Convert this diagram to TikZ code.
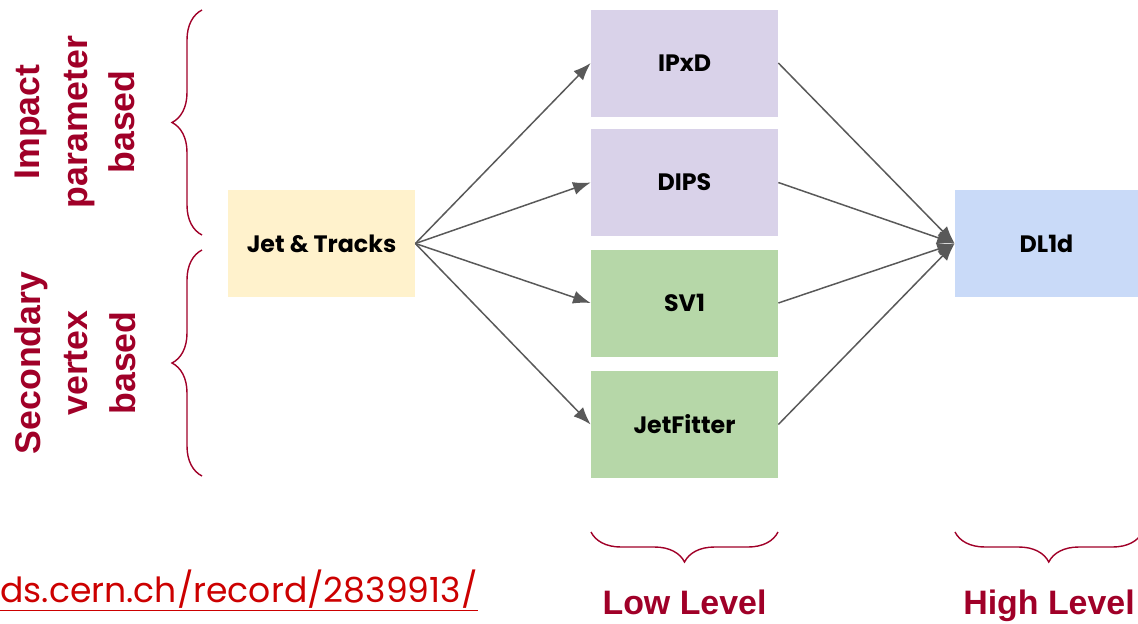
\documentclass[tikz,border=0pt]{standalone}
\usepackage{fontspec}
\setmainfont{Liberation Sans}
\newfontfamily\boxfont{Poppins}
\usetikzlibrary{arrows.meta,decorations.pathreplacing}
\definecolor{jetyellow}{RGB}{255,242,204}
\definecolor{lowpurple}{RGB}{217,210,233}
\definecolor{lowgreen}{RGB}{182,215,168}
\definecolor{highblue}{RGB}{201,218,248}
\definecolor{labelred}{RGB}{160,0,40}
\definecolor{linkred}{RGB}{204,0,0}
\definecolor{arrowgray}{RGB}{89,89,89}
\begin{document}
\begin{tikzpicture}[
	tagger/.style={minimum width=3.74cm, minimum height=2.14cm, inner sep=0pt,
		font=\boxfont\bfseries\fontsize{13.5}{15}\selectfont},
	feed/.style={draw=arrowgray, line width=0.85pt, -{Latex[length=10pt,width=7.5pt]}},
	groupbrace/.style={draw=labelred, line width=0.8pt,
		decorate, decoration={brace, amplitude=0.6cm}},
	grouplabel/.style={text=labelred, font=\bfseries\fontsize{20.3}{27}\selectfont},
	levellabel/.style={text=labelred, font=\bfseries\fontsize{19.3}{23}\selectfont}
	]
	\useasboundingbox (0,0) rectangle (22.76,-12.46);
	
	\node[tagger, fill=jetyellow] (jet) at (6.43,-4.87) {Jet \& Tracks};
	\node[tagger, fill=lowpurple] (ipxd) at (13.69,-1.26) {IPxD};
	\node[tagger, fill=lowpurple] (dips) at (13.69,-3.65) {DIPS};
	\node[tagger, fill=lowgreen] (sv1) at (13.69,-6.06) {SV1};
	\node[tagger, fill=lowgreen] (jetfitter) at (13.69,-8.49) {JetFitter};
	\node[tagger, fill=highblue, minimum width=3.66cm] (dl1d) at (20.93,-4.87) {DL1d};
	
	\draw[feed] (jet.east)--(ipxd.west);
	\draw[feed] (jet.east)--(dips.west);
	\draw[feed] (jet.east)--(sv1.west);
	\draw[feed] (jet.east)--(jetfitter.west);
	\draw[feed] (ipxd.east)--(dl1d.west);
	\draw[feed] (dips.east)--(dl1d.west);
	\draw[feed] (sv1.east)--(dl1d.west);
	\draw[feed] (jetfitter.east)--(dl1d.west);
	
	\coordinate (ipTop) at (4.04,-0.2);
	\coordinate (ipBot) at (4.04,-4.7);
	\coordinate (svTop) at (4.04,-5.0);
	\coordinate (svBot) at (4.04,-9.52);
	\draw[groupbrace] (ipBot)--(ipTop);
	\draw[groupbrace] (svBot)--(svTop);
	\node[grouplabel, rotate=90, align=center] (iplabel) at (1.5,-2.44)
	{Impact\\parameter\\based};
	\node[grouplabel, rotate=90, align=center] (svlabel) at (1.5,-7.26)
	{Secondary\\vertex\\based};
	
	\coordinate (lowL) at (11.82,-10.64);
	\coordinate (lowR) at (15.56,-10.64);
	\coordinate (highL) at (19.1,-10.64);
	\coordinate (highR) at (22.85,-10.64);
	\draw[groupbrace] (lowR)--(lowL);
	\draw[groupbrace] (highR)--(highL);
	\node[levellabel, anchor=base] (lowlabel) at (13.69,-12.28) {Low Level};
	\node[levellabel, anchor=base] (highlabel) at (20.98,-12.28) {High Level};
	
	\node[anchor=base east, inner sep=0pt, text=linkred,
		font=\boxfont\fontsize{19.7}{22}\selectfont] (cdslink) at (9.56,-12.04)
	{\underline{ds.cern.ch/record/2839913/}};
\end{tikzpicture}
\end{document}
